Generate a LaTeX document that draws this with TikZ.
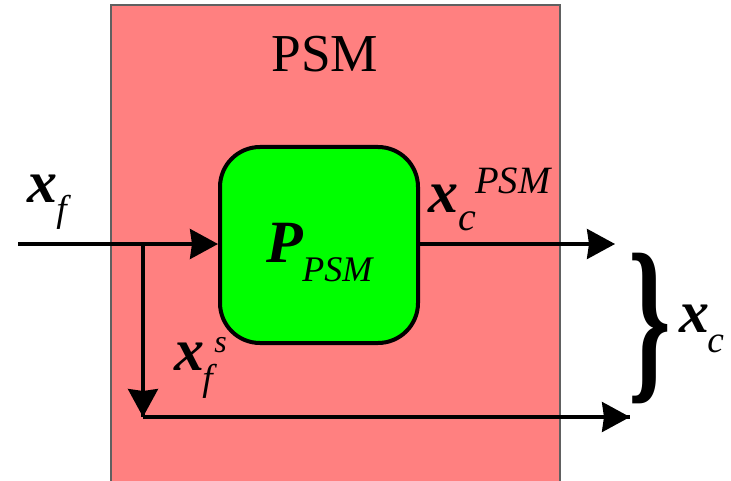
\documentclass[tikz,border=0pt]{standalone}
\usepackage{fontspec}
\setmainfont{Liberation Serif}
\usepackage{graphicx}
\usetikzlibrary{arrows.meta}
\definecolor{psmred}{HTML}{FF8080}
\definecolor{psmgreen}{HTML}{00FF00}
\definecolor{psmgray}{HTML}{606060}
\tikzset{
  arr/.style={line width=2.4pt, -{Stealth[length=21pt,width=22.5pt,inset=1.5pt]}},
  lbl/.style={inner sep=0pt, anchor=base west},
  bigx/.style={lbl, font=\fontsize{45}{45}\selectfont\bfseries\itshape},
  subl/.style={lbl, font=\fontsize{28}{28}\selectfont\itshape},
}
\begin{document}
\begin{tikzpicture}[x=0.75pt,y=-0.75pt]
\useasboundingbox (0,0) rectangle (731,481);
\fill[white] (0,0) rectangle (731,481);
% PSM block
\draw[psmgray, fill=psmred, line width=1pt] (111,5) rectangle (560,500);
\node[inner sep=0pt, font=\fontsize{40}{40}\selectfont] (title) at (325,54) {PSM};
% inner block
\node[draw=black, fill=psmgreen, line width=3pt, rounded corners=30pt,
      minimum width=148.5pt, minimum height=147pt, inner sep=0pt] (pbox) at (319,245) {};
\node[lbl, font=\fontsize{45}{45}\selectfont\bfseries\itshape] (P) at (266,262) {P};
\node[lbl, font=\fontsize{27}{27}\selectfont\itshape] (Psub) at (302,281) {PSM};
% coordinates
\coordinate (in) at (18,244);
\coordinate (split) at (143,244);
\coordinate (corner) at (143,417);
\coordinate (out1) at (615,244);
\coordinate (out2) at (630,417);
% connectors
\draw[arr] (in) -- (pbox.west |- in);
\draw[line width=2.4pt] (split) -- (corner);
\draw[arr] (split) -- (corner);
\draw[line width=2.4pt] (corner) -- (out2);
\draw[arr] (corner) -- (out2);
\draw[arr] (pbox.east |- out1) -- (out1);
% labels
\node[bigx] (xf) at (27,202) {x};
\node[subl] (xfsub) at (56,221) {f};
\node[bigx] (xc1) at (428,212) {x};
\node[subl, font=\fontsize{30}{30}\selectfont\itshape] (xc1sub) at (458,230) {c};
\node[lbl, font=\fontsize{29}{29}\selectfont\itshape] (xc1sup) at (475,193) {PSM};
\node[bigx] (xs) at (174,370) {x};
\node[subl] (xssub) at (202,390) {f};
\node[lbl, font=\fontsize{24}{24}\selectfont\itshape] (xssup) at (214,352) {s};
\node[inner sep=0pt] (brace) at (650,328) {\resizebox*{32pt}{113pt}{\bfseries\}}};
\node[bigx] (xc) at (679,332) {x};
\node[subl] (xcsub) at (707,352) {c};
\end{tikzpicture}
\end{document}
